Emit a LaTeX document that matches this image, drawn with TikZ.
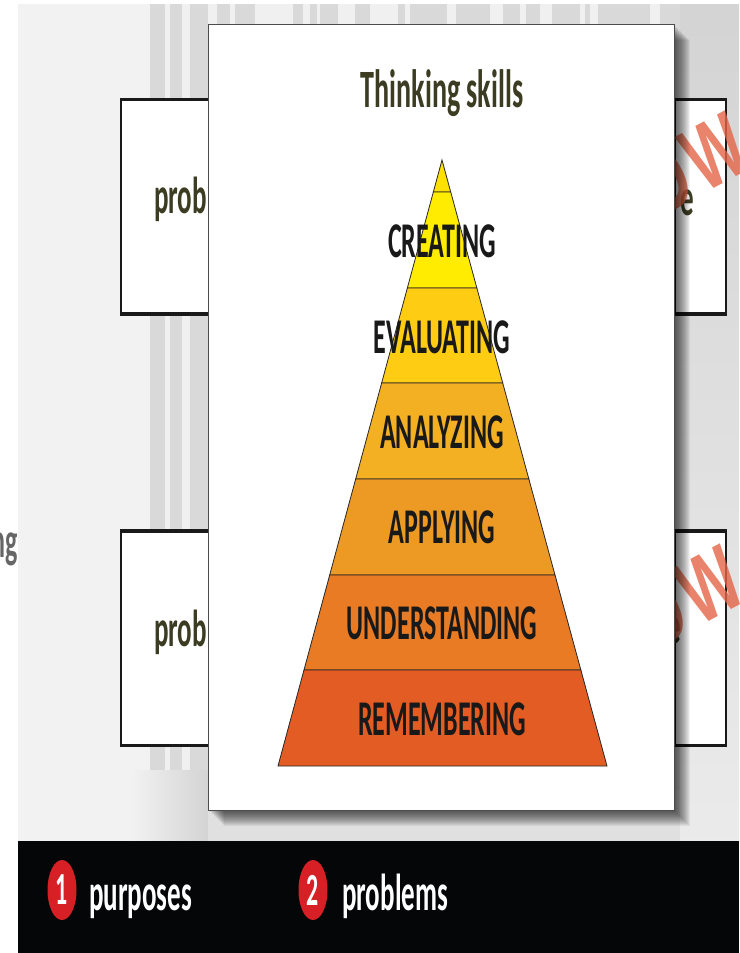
\documentclass[tikz,border=0pt]{standalone}
\usepackage{fontspec}
\usetikzlibrary{positioning, calc, shapes.geometric}
\newfontfamily\thinfont[FakeStretch=0.52]{Carlito}
\newfontfamily\stampfont[FakeStretch=0.66]{Liberation Sans}
\definecolor{clrText}{RGB}{60,60,35}
\definecolor{clrBand}{RGB}{4,6,8}
\definecolor{clrBadge}{RGB}{214,32,38}
\definecolor{clrMark}{RGB}{228,100,70}
\tikzstyle{smallbox}=[draw=black!90, line width=1.5pt, fill=white, minimum height=213pt, anchor=north west]
\tikzstyle{layer}=[draw=black!85, line width=0.8pt]
\tikzstyle{skill}=[font=\thinfont\bfseries\fontsize{50}{50}\selectfont, text=black!90]
\tikzstyle{word}=[font=\thinfont\bfseries\fontsize{52}{52}\selectfont, text=clrText, anchor=base west, inner sep=0pt]
\tikzstyle{legend}=[font=\thinfont\bfseries\fontsize{52}{52}\selectfont, text=white, anchor=base west, inner sep=0pt]
\tikzstyle{badge}=[ellipse, fill=clrBadge, minimum width=29pt, minimum height=60pt, inner sep=0pt,
text=white, font=\thinfont\bfseries\fontsize{46}{46}\selectfont]
\tikzstyle{stamp}=[font=\stampfont\bfseries\fontsize{92}{92}\selectfont, text=clrMark, opacity=0.8, rotate=28]
\begin{document}
\begin{tikzpicture}[x=1pt, y=-1pt]
	\useasboundingbox (0,0) rectangle (739,953);
	\clip (0,0) rectangle (739,953);

	% backdrop
	\fill[black!5] (18,4) rectangle (739,841);
	\fill[black!15] (150,4) rectangle (680,790);
	\foreach \xa/\xb in {165/170, 182/190, 208/217, 230/235, 255/293, 303/310, 317/320, 338/355, 370/398, 405/410, 447/456, 490/503, 520/526, 540/552, 580/585, 590/598, 650/660} {
		\fill[black!6] (\xa,4) rectangle (\xb,790);
	}
	\shade[top color=black!17, bottom color=black!8] (680,4) rectangle (739,841);
	\shade[left color=black!5, right color=black!17] (130,770) rectangle (208,841);
	\fill[black!12] (208,790) rectangle (680,841);
	\node[text=black!60, font=\thinfont\bfseries\fontsize{50}{50}\selectfont, anchor=base east, inner sep=0pt] (cutword) at (18,557) {ng};

	% boxes behind the panel
	\node[smallbox, minimum width=88pt] (boxA) at (120,99.5) {};
	\node[smallbox, minimum width=88pt] (boxB) at (120,531) {};
	\node[smallbox, minimum width=51pt] (boxC) at (674,99.5) {};
	\node[smallbox, minimum width=51pt] (boxD) at (674,531) {};
	\foreach \boxname in {boxA, boxB, boxC, boxD} {
		\draw[black!90, line width=3.2pt] (\boxname.north west) -- (\boxname.north east);
		\draw[black!90, line width=3.2pt] (\boxname.south west) -- (\boxname.south east);
	}
	\node[word] (probA) at (154,213) {prob};
	\node[word] (probB) at (154,646) {prob};
	\node[word] (endC) at (680,215) {e};
	\node[word] (endD) at (667,643) {e};
	\node[stamp] (markC) at (691.6,164.4) {O\kern6pt W};
	\node[stamp] (markD) at (686.6,597.4) {O\kern6pt W};

	% panel and its shadow
	\foreach \d in {16,15,...,1} {
		\fill[black, opacity=0.055] (208+\d,24+\d) rectangle (674+\d,810+\d);
	}
	\node[draw=black!70, line width=1.2pt, fill=white, minimum width=466pt, minimum height=786pt, anchor=north west] (panel) at (208,24) {};
	\node[word, anchor=base, font=\thinfont\bfseries\fontsize{54}{54}\selectfont] (title) at (442,107) {Thinking skills};

	% pyramid
	\coordinate (apex) at (442,160);
	\coordinate (baseL) at (278,766);
	\coordinate (baseR) at (607,766);
	\foreach \fa/\fb/\clr in {0/0.0528/FFE000, 0.0528/0.2112/FFEC00, 0.2112/0.368/FFCC14, 0.368/0.5264/F2B022, 0.5264/0.6848/EC9A24, 0.6848/0.8416/E87B24, 0.8416/1/E35C24} {
		\definecolor{clrLayer}{HTML}{\clr}
		\draw[layer, fill=clrLayer] ($(apex)!\fa!(baseL)$) -- ($(apex)!\fb!(baseL)$) -- ($(apex)!\fb!(baseR)$) -- ($(apex)!\fa!(baseR)$) -- cycle;
	}
	\node[skill] (creating) at (442,241) {CREATING};
	\node[skill] (evaluating) at (442,337) {EVALUATING};
	\node[skill] (analyzing) at (442,432) {ANALYZING};
	\node[skill] (applying) at (442,527) {APPLYING};
	\node[skill] (understanding) at (442,623) {UNDERSTANDING};
	\node[skill] (remembering) at (442,719) {REMEMBERING};

	% legend band
	\fill[clrBand] (18,841) rectangle (739,953);
	\node[badge] (one) at (62,890) {1};
	\node[badge] (two) at (313,890) {2};
	\node[legend] (purposes) at (89,910) {purposes};
	\node[legend] (problems) at (342,910) {problems};
\end{tikzpicture}
\end{document}
